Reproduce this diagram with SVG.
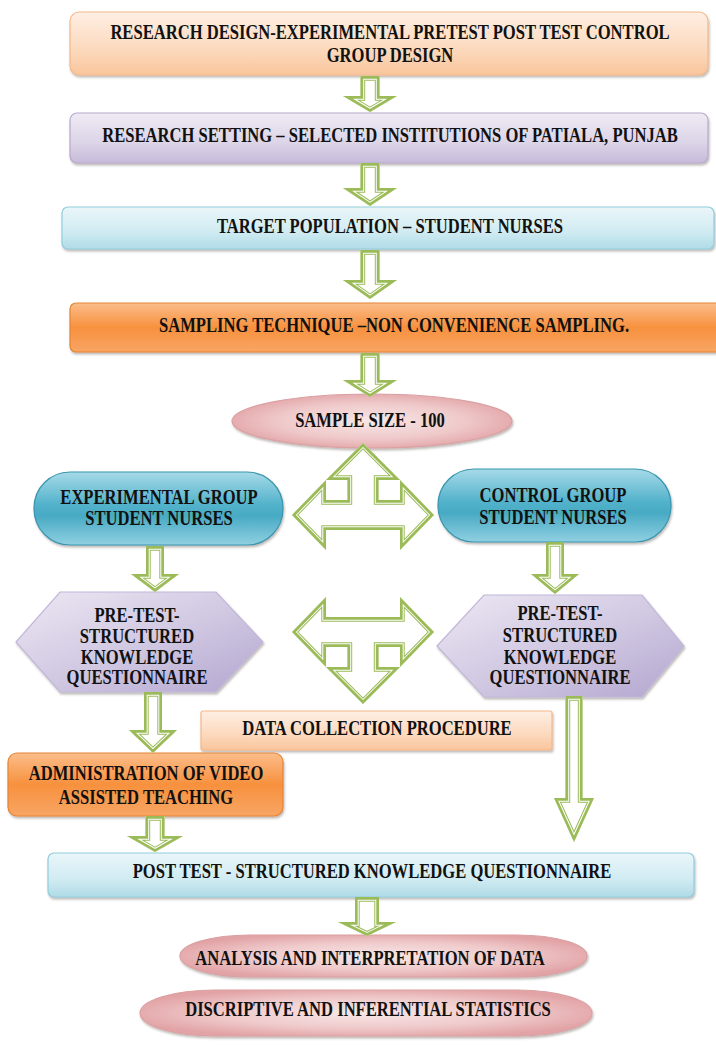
<svg xmlns="http://www.w3.org/2000/svg" width="716" height="1046" viewBox="0 0 716 1046">
<style>
.t{font-family:"Liberation Serif","Times New Roman",serif;font-weight:bold;font-size:20px;fill:#111;text-anchor:middle}
.g1{fill:#fff;stroke:#9bbb59;stroke-width:9.4;stroke-linejoin:miter}
.g2{fill:none;stroke:#fff;stroke-width:7.4;stroke-linejoin:miter}
.g3{fill:none;stroke:#9bbb59;stroke-width:5.4;stroke-linejoin:miter}
.peach{fill:url(#gPeach);stroke:#f5b88a;stroke-width:1.2}
.lav{fill:url(#gLav);stroke:#b8a9cc;stroke-width:1.2}
.blue{fill:url(#gBlue);stroke:#92cddc;stroke-width:1.2}
.orange{fill:url(#gOrange);stroke:#e58535;stroke-width:1.2}
.pink{fill:url(#gPink);stroke:#dba0a2;stroke-width:1.2}
.teal{fill:url(#gTeal);stroke:#3a95ae;stroke-width:1.2}
.hex{fill:url(#gHex);stroke:#c2b7d9;stroke-width:1.2}
.sh{filter:url(#sh)}
</style>
<defs>
<filter id="sh" x="-5%" y="-15%" width="112%" height="140%">
<feDropShadow dx="1" dy="2" stdDeviation="1" flood-color="#4a3a30" flood-opacity="0.35"/>
</filter>
<linearGradient id="gPeach" x1="0" y1="0" x2="0" y2="1"><stop offset="0" stop-color="#feefe4"/><stop offset="0.6" stop-color="#fcd9bd"/><stop offset="1" stop-color="#f9c59c"/></linearGradient>
<linearGradient id="gLav" x1="0" y1="0" x2="0" y2="1"><stop offset="0" stop-color="#efebf4"/><stop offset="0.6" stop-color="#dcd4e7"/><stop offset="1" stop-color="#c6bad9"/></linearGradient>
<linearGradient id="gBlue" x1="0" y1="0" x2="0" y2="1"><stop offset="0" stop-color="#eaf6f9"/><stop offset="0.6" stop-color="#d0ebf2"/><stop offset="1" stop-color="#afdbe7"/></linearGradient>
<linearGradient id="gOrange" x1="0" y1="0" x2="0" y2="1"><stop offset="0" stop-color="#fbbd8a"/><stop offset="0.5" stop-color="#f7913e"/><stop offset="1" stop-color="#f8a564"/></linearGradient>
<radialGradient id="gPink" cx="0.5" cy="0.5" r="0.55"><stop offset="0" stop-color="#f8e7e7"/><stop offset="0.6" stop-color="#efc9ca"/><stop offset="1" stop-color="#e2a3a6"/></radialGradient>
<linearGradient id="gTeal" x1="0" y1="0" x2="0" y2="1"><stop offset="0" stop-color="#a6dae8"/><stop offset="0.45" stop-color="#52b2cb"/><stop offset="0.6" stop-color="#48aac4"/><stop offset="1" stop-color="#8fd0e1"/></linearGradient>
<linearGradient id="gHex" x1="0" y1="0" x2="1" y2="1"><stop offset="0" stop-color="#ece8f3"/><stop offset="0.55" stop-color="#cfc6e1"/><stop offset="1" stop-color="#b3a6cf"/></linearGradient>

<path id="p1" d="M360.5,76 H379.5 V96 H397 L370,112 L343,96 H360.5 Z"/>
<path id="p2" d="M360.5,163 H379.5 V188 H397 L370,206 L343,188 H360.5 Z"/>
<path id="p3" d="M360.5,250 H379.5 V280 H397 L370,299 L343,280 H360.5 Z"/>
<path id="p4" d="M360.5,353 H379.5 V380 H397 L370,397 L343,380 H360.5 Z"/>
<path id="p5" d="M146,546 H164 V574 H179 L155,592 L131,574 H146 Z"/>
<path id="p6" d="M546,542 H564 V574 H579 L555,594 L531,574 H546 Z"/>
<path id="p7" d="M144,692 H162 V730 H177 L153,753 L129,730 H144 Z"/>
<path id="p8" d="M565.5,696 H582.5 V798 H594 L574,842 L554,798 H565.5 Z"/>
<path id="p9" d="M145.5,816 H164.5 V836 H183 L155,852 L127,836 H145.5 Z"/>
<path id="p10" d="M355,897 H379 V922 H396 L367,936 L338,922 H355 Z"/>
<path id="x1" d="M363,443 L400,480 H378.5 V500 H400 V480 L434,515 L400,550 V530 H326 V550 L292,515 L326,480 V500 H347.5 V480 H326 Z"/>
<path id="x2" d="M363,704 L400,667 H378.5 V647 H400 V667 L434,632 L400,597 V617 H326 V597 L292,632 L326,667 V647 H347.5 V667 H326 Z"/>
<clipPath id="k1"><use href="#p1"/></clipPath>
<clipPath id="k2"><use href="#p2"/></clipPath>
<clipPath id="k3"><use href="#p3"/></clipPath>
<clipPath id="k4"><use href="#p4"/></clipPath>
<clipPath id="k5"><use href="#p5"/></clipPath>
<clipPath id="k6"><use href="#p6"/></clipPath>
<clipPath id="k7"><use href="#p7"/></clipPath>
<clipPath id="k8"><use href="#p8"/></clipPath>
<clipPath id="k9"><use href="#p9"/></clipPath>
<clipPath id="k10"><use href="#p10"/></clipPath>
<clipPath id="kx1"><use href="#x1"/></clipPath>
<clipPath id="kx2"><use href="#x2"/></clipPath>
</defs>

<rect width="716" height="1046" fill="#fff"/>

<g id="n-design">
<rect class="peach sh" x="70" y="12" width="638" height="63" rx="9"/>
<text class="t" transform="translate(390,38.5) scale(0.83,1)">RESEARCH DESIGN-EXPERIMENTAL PRETEST POST TEST CONTROL</text>
<text class="t" transform="translate(390,61.5) scale(0.83,1)">GROUP DESIGN</text>
</g>
<g id="n-setting">
<rect class="lav sh" x="70" y="113" width="638" height="50" rx="7"/>
<text class="t" transform="translate(390,141.5) scale(0.83,1)">RESEARCH SETTING – SELECTED INSTITUTIONS OF PATIALA, PUNJAB</text>
</g>
<g id="n-population">
<rect class="blue sh" x="62" y="207" width="652" height="42" rx="6"/>
<text class="t" transform="translate(390,232.5) scale(0.83,1)">TARGET POPULATION – STUDENT NURSES</text>
</g>
<g id="n-sampling">
<rect class="orange sh" x="70" y="303" width="660" height="49" rx="6"/>
<text class="t" transform="translate(394,331.5) scale(0.83,1)">SAMPLING TECHNIQUE –NON CONVENIENCE SAMPLING.</text>
</g>
<g id="n-size">
<ellipse class="pink sh" cx="372" cy="421" rx="140" ry="27"/>
<text class="t" transform="translate(370,426.5) scale(0.83,1)">SAMPLE SIZE - 100</text>
</g>
<g id="n-exp">
<rect class="teal sh" x="34" y="472" width="249" height="73" rx="36"/>
<text class="t" transform="translate(159,503.5) scale(0.83,1)">EXPERIMENTAL GROUP</text>
<text class="t" transform="translate(159,524.5) scale(0.83,1)">STUDENT NURSES</text>
</g>
<g id="n-ctrl">
<rect class="teal sh" x="438" y="469" width="233" height="73" rx="36"/>
<text class="t" transform="translate(553,501.5) scale(0.83,1)">CONTROL GROUP</text>
<text class="t" transform="translate(553,523.5) scale(0.83,1)">STUDENT NURSES</text>
</g>
<g id="n-pretest-exp">
<path class="hex sh" d="M16,642 L60,592 H216 L263,642 L216,692 H60 Z"/>
<text class="t" transform="translate(137,621.5) scale(0.83,1)">PRE-TEST-</text>
<text class="t" transform="translate(137,643) scale(0.83,1)">STRUCTURED</text>
<text class="t" transform="translate(137,663.5) scale(0.83,1)">KNOWLEDGE</text>
<text class="t" transform="translate(137,684) scale(0.83,1)">QUESTIONNAIRE</text>
</g>
<g id="n-pretest-ctrl">
<path class="hex sh" d="M437,646 L484,595 H642 L684,646 L642,697 H484 Z"/>
<text class="t" transform="translate(560,619.5) scale(0.83,1)">PRE-TEST-</text>
<text class="t" transform="translate(560,641.5) scale(0.83,1)">STRUCTURED</text>
<text class="t" transform="translate(560,663.5) scale(0.83,1)">KNOWLEDGE</text>
<text class="t" transform="translate(560,683.5) scale(0.83,1)">QUESTIONNAIRE</text>
</g>
<g id="n-data">
<rect class="peach sh" x="201" y="711" width="351" height="39" rx="2"/>
<text class="t" transform="translate(377,734.5) scale(0.83,1)">DATA COLLECTION PROCEDURE</text>
</g>
<g id="n-admin">
<rect class="orange sh" x="8" y="753" width="275" height="63" rx="9"/>
<text class="t" transform="translate(146,779.5) scale(0.83,1)">ADMINISTRATION OF VIDEO</text>
<text class="t" transform="translate(146,803.5) scale(0.83,1)">ASSISTED TEACHING</text>
</g>
<g id="n-posttest">
<rect class="blue sh" x="48" y="853" width="646" height="44" rx="6"/>
<text class="t" transform="translate(372,877.5) scale(0.83,1)">POST TEST - STRUCTURED KNOWLEDGE QUESTIONNAIRE</text>
</g>
<g id="n-analysis">
<rect class="pink sh" x="180" y="935" width="407" height="42" rx="70" ry="21"/>
<text class="t" transform="translate(370,964.5) scale(0.83,1)">ANALYSIS AND INTERPRETATION OF DATA</text>
</g>
<g id="n-stats">
<rect class="pink sh" x="140" y="990" width="452" height="46" rx="75" ry="23"/>
<text class="t" transform="translate(368,1016) scale(0.83,1)">DISCRIPTIVE AND INFERENTIAL STATISTICS</text>
</g>

<g id="connectors">
<g clip-path="url(#k1)"><use href="#p1" class="g1"/><use href="#p1" class="g2"/><use href="#p1" class="g3"/></g>
<g clip-path="url(#k2)"><use href="#p2" class="g1"/><use href="#p2" class="g2"/><use href="#p2" class="g3"/></g>
<g clip-path="url(#k3)"><use href="#p3" class="g1"/><use href="#p3" class="g2"/><use href="#p3" class="g3"/></g>
<g clip-path="url(#k4)"><use href="#p4" class="g1"/><use href="#p4" class="g2"/><use href="#p4" class="g3"/></g>
<g clip-path="url(#k5)"><use href="#p5" class="g1"/><use href="#p5" class="g2"/><use href="#p5" class="g3"/></g>
<g clip-path="url(#k6)"><use href="#p6" class="g1"/><use href="#p6" class="g2"/><use href="#p6" class="g3"/></g>
<g clip-path="url(#k7)"><use href="#p7" class="g1"/><use href="#p7" class="g2"/><use href="#p7" class="g3"/></g>
<g clip-path="url(#k8)"><use href="#p8" class="g1"/><use href="#p8" class="g2"/><use href="#p8" class="g3"/></g>
<g clip-path="url(#k9)"><use href="#p9" class="g1"/><use href="#p9" class="g2"/><use href="#p9" class="g3"/></g>
<g clip-path="url(#k10)"><use href="#p10" class="g1"/><use href="#p10" class="g2"/><use href="#p10" class="g3"/></g>
<g clip-path="url(#kx1)"><use href="#x1" class="g1"/><use href="#x1" class="g2"/><use href="#x1" class="g3"/></g>
<g clip-path="url(#kx2)"><use href="#x2" class="g1"/><use href="#x2" class="g2"/><use href="#x2" class="g3"/></g>
</g>
</svg>
